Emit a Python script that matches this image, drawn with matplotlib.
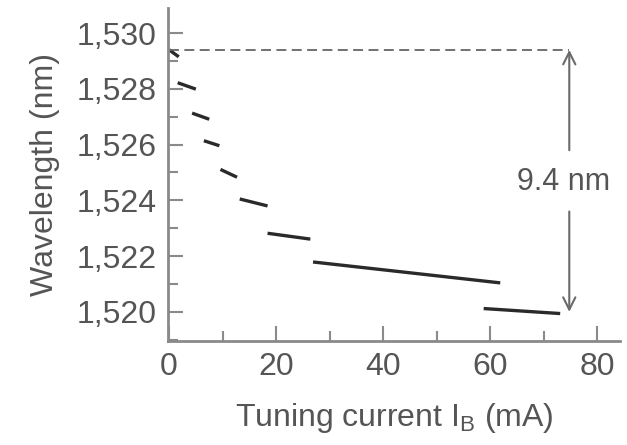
import matplotlib
matplotlib.use('Agg')
import matplotlib.pyplot as plt
import numpy as np

# mode-hop segments: (start, end) of current and wavelength
seg_I = [(0.0, 1.8), (1.6, 5.0), (4.3, 7.5), (6.5, 9.4), (9.6, 12.7),
         (13.2, 18.4), (18.4, 26.4), (26.9, 61.9), (58.8, 73.1)]
seg_wl = [(1529.40, 1529.15), (1528.22, 1527.99), (1527.13, 1526.91),
          (1526.14, 1525.96), (1525.11, 1524.83), (1524.05, 1523.80),
          (1522.82, 1522.61), (1521.79, 1521.04), (1520.12, 1519.94)]

wl_top = 1529.4
wl_bottom = 1520.0
arrow_I = 74.8
span_text = '9.4 nm'

xticks = [0, 20, 40, 60, 80]
yticks = [1520, 1522, 1524, 1526, 1528, 1530]
ytick_labels = ['1,520', '1,522', '1,524', '1,526', '1,528', '1,530']

matplotlib.rc('font', family='Liberation Sans', size=23)
matplotlib.rc('mathtext', fontset='custom', rm='Liberation Sans')
grey = '#555555'
axgrey = '#8a8a8a'

fig = plt.figure(figsize=(6.27, 4.45), dpi=100, facecolor='w')
ax = fig.add_axes([0.268, 0.234, 0.721, 0.748])

for I, wl in zip(seg_I, seg_wl):
    ax.plot(I, wl, color='#2a2a2a', lw=2.4, solid_capstyle='butt')

ax.plot([0, arrow_I], [wl_top, wl_top], ls=(0, (5.5, 3)), color='#666666', lw=1.3)
ax.annotate('', xy=(arrow_I, wl_top), xytext=(arrow_I, 1525.8),
            arrowprops=dict(arrowstyle='->', color='#6a6a6a', lw=1.5,
                            shrinkA=0, shrinkB=0, mutation_scale=22))
ax.annotate('', xy=(arrow_I, wl_bottom), xytext=(arrow_I, 1523.6),
            arrowprops=dict(arrowstyle='->', color='#6a6a6a', lw=1.5,
                            shrinkA=0, shrinkB=0, mutation_scale=22))
ax.text(73.7, 1524.66, span_text, ha='center', va='center', color=grey, fontsize=22)

ax.set_xlim(-0.2, 84.3)
ax.set_ylim(1518.96, 1530.9)
ax.set_xticks(xticks)
ax.set_xticks([10, 30, 50, 70], minor=True)
ax.set_yticks(yticks)
ax.set_yticklabels(ytick_labels)
ax.set_yticks([1519, 1521, 1523, 1525, 1527, 1529], minor=True)

ax.tick_params(which='both', direction='in', colors=axgrey, labelcolor=grey, width=1.5)
ax.tick_params(which='major', length=11, pad=8)
ax.tick_params(which='minor', length=7)

for s in ['top', 'right']:
    ax.spines[s].set_visible(False)
for s in ['left', 'bottom']:
    ax.spines[s].set_color(axgrey)
    ax.spines[s].set_linewidth(2)

ax.set_xlabel('Tuning current I$_\\mathregular{B}$ (mA)', color=grey, labelpad=14)
ax.set_ylabel('Wavelength (nm)', color=grey, labelpad=12)

fig.savefig('out.png', dpi=100, facecolor='w')
